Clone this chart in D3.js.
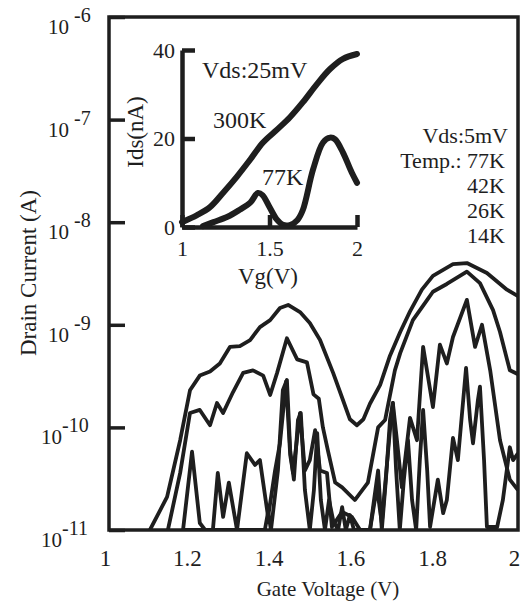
<!DOCTYPE html>
<html>
<head>
<meta charset="utf-8">
<script src="https://cdn.jsdelivr.net/npm/d3@7"></script>
<style>
  body { margin: 0; background: #fff; }
  svg { display: block; }
  text { font-family: "Liberation Serif", "Times New Roman", serif; fill: #1e1e1e; }
</style>
</head>
<body>
<svg></svg>
<script>
// main plot, Vds = 5mV : gate voltage (V) and drain current (A) per temperature
let vg77 = [1.100, 1.142, 1.174, 1.198, 1.222, 1.247, 1.271, 1.296, 1.320, 1.345, 1.369, 1.394, 1.418, 1.438, 1.467, 1.491, 1.516, 1.548, 1.572, 1.589, 1.606, 1.622, 1.638, 1.663, 1.687, 1.712, 1.736, 1.765, 1.792, 1.841, 1.875, 1.924, 1.973, 2.000];
let id77 = [1e-11, 2.1e-11, 7.5e-11, 2.3e-10, 3.2e-10, 3.5e-10, 4.2e-10, 6.1e-10, 6.2e-10, 7.1e-10, 9.5e-10, 1.11e-9, 1.46e-9, 1.56e-9, 1.33e-9, 1.04e-9, 7.1e-10, 3.4e-10, 1.85e-10, 1.2e-10, 1.05e-10, 1.2e-10, 1.7e-10, 2.6e-10, 5.0e-10, 8.5e-10, 1.35e-9, 2.2e-9, 3.0e-9, 3.9e-9, 4.0e-9, 3.2e-9, 2.2e-9, 1.9e-9];

let vg42 = [1.144, 1.174, 1.198, 1.222, 1.247, 1.264, 1.279, 1.303, 1.328, 1.352, 1.377, 1.394, 1.411, 1.435, 1.460, 1.484, 1.500, 1.513, 1.523, 1.535, 1.553, 1.570, 1.601, 1.633, 1.658, 1.675, 1.699, 1.712, 1.743, 1.778, 1.792, 1.826, 1.875, 1.907, 1.939, 1.956, 1.980, 2.000];
let id42 = [1e-11, 3.6e-11, 1.38e-10, 1.48e-10, 1.05e-10, 1.73e-10, 1.38e-10, 2.2e-10, 3.4e-10, 3.6e-10, 3.2e-10, 2.07e-10, 3.4e-10, 7.4e-10, 4.6e-10, 4.3e-10, 2.1e-10, 1.9e-10, 1.0e-10, 6.0e-11, 2.9e-11, 2.6e-11, 1.96e-11, 2.9e-11, 1.0e-10, 1.18e-10, 3.6e-10, 5.3e-10, 1.11e-9, 1.75e-9, 2.1e-9, 2.5e-9, 3.3e-9, 2.55e-9, 1.39e-9, 8.5e-10, 3.6e-10, 3.3e-10];

let vg26 = [1.181, 1.203, 1.222, 1.235, 1.254, 1.266, 1.279, 1.293, 1.313, 1.337, 1.357, 1.369, 1.389, 1.406, 1.418, 1.433, 1.443, 1.450, 1.467, 1.479, 1.491, 1.504, 1.516, 1.533, 1.545, 1.570, 1.594, 1.614, 1.638, 1.655, 1.667, 1.687, 1.694, 1.704, 1.716, 1.736, 1.753, 1.768, 1.792, 1.809, 1.826, 1.841, 1.875, 1.895, 1.912, 1.932, 1.956, 1.980, 2.000];
let id26 = [1e-11, 5.8e-11, 1.17e-11, 1e-11, 1e-11, 3.6e-11, 1.34e-11, 2.9e-11, 1e-11, 5.6e-11, 4.3e-11, 4.8e-11, 1.34e-11, 3.8e-11, 7.0e-11, 2.8e-10, 5.4e-11, 3.6e-11, 1.38e-10, 3.8e-11, 4.8e-11, 9.4e-11, 3.8e-11, 3.6e-11, 1.07e-11, 1.5e-11, 1.34e-11, 1e-11, 1e-11, 2.6e-11, 1.17e-11, 9.4e-11, 1.73e-10, 7.5e-11, 2.6e-11, 1.24e-10, 7.5e-11, 6.1e-10, 1.58e-10, 6.4e-10, 4.2e-10, 7.6e-10, 1.75e-9, 6.1e-10, 1.0e-9, 3.6e-10, 7.5e-11, 3.1e-11, 2.45e-11];

let vg14 = [1.181, 1.381, 1.389, 1.396, 1.413, 1.425, 1.435, 1.443, 1.452, 1.462, 1.469, 1.479, 1.491, 1.501, 1.509, 1.518, 1.528, 1.538, 1.548, 1.560, 1.570, 1.579, 1.589, 1.599, 1.638, 1.648, 1.658, 1.667, 1.677, 1.687, 1.694, 1.702, 1.711, 1.721, 1.731, 1.741, 1.751, 1.760, 1.768, 1.778, 1.785, 1.804, 1.817, 1.826, 1.841, 1.853, 1.873, 1.883, 1.890, 1.902, 1.907, 1.917, 1.924, 1.949, 1.963, 1.980, 1.988, 2.000];
let id14 = [1e-11, 1e-11, 1.5e-11, 1e-11, 3.8e-11, 2.3e-10, 2.9e-10, 6.0e-11, 3.1e-11, 1.18e-10, 1.38e-10, 2.45e-11, 1e-11, 2.45e-11, 8.8e-11, 1.96e-11, 1e-11, 1.96e-11, 1.25e-11, 1e-11, 1.67e-11, 1e-11, 1.4e-11, 1e-11, 1e-11, 1.96e-11, 3.8e-11, 1e-11, 3.1e-11, 1.18e-10, 1.73e-10, 3.8e-11, 1e-11, 3.1e-11, 7.5e-11, 1.96e-11, 1e-11, 4.8e-11, 1.48e-10, 3.8e-11, 1.07e-11, 3.1e-11, 1.46e-11, 1.96e-11, 7.9e-11, 4.8e-11, 3.8e-10, 1.18e-10, 7.0e-11, 1.85e-10, 2.5e-10, 4.8e-11, 1.07e-11, 1.07e-11, 1.96e-11, 6.4e-11, 4.8e-11, 5.6e-11];

// inset, Vds = 25mV : Vg (V) and Ids (nA)
let insetVg300 = [1.0, 1.086, 1.16, 1.234, 1.314, 1.389, 1.463, 1.543, 1.617, 1.691, 1.771, 1.846, 1.92, 2.0];
let insetIds300 = [1.1, 2.7, 4.5, 7.7, 11.4, 15.2, 19.1, 22.0, 24.8, 28.2, 32.3, 35.7, 38.0, 39.1];
let insetVg77 = [1.12, 1.18, 1.26, 1.33, 1.39, 1.434, 1.46, 1.50, 1.54, 1.577, 1.62, 1.66, 1.691, 1.749, 1.806, 1.846, 1.875, 1.92, 1.97, 2.0];
let insetIds77 = [0.2, 1.1, 2.3, 3.9, 5.5, 7.7, 7.2, 4.5, 1.8, 0.5, 0.5, 1.6, 3.9, 13.0, 19.1, 20.2, 19.8, 16.8, 12.3, 10.0];

// ticks and labels
let yDecades = [1e-6, 1e-7, 1e-8, 1e-9, 1e-10, 1e-11];
let xTicks = [1, 1.2, 1.4, 1.6, 1.8, 2];
let insetXTicks = [1, 1.5, 2];
let insetYTicks = [0, 20, 40];
let legendLines = ["Vds:5mV", "Temp.: 77K", "42K", "26K", "14K"];

let width = 520;
let height = 601;
let ink = "#1e1e1e";

let svg = d3.select("svg");
let xScale, yScale, insetX, insetY;

let drawCanvas = () => {
  svg.attr("width", width).attr("height", height);
  svg.append("defs").append("clipPath").attr("id", "plotClip")
    .append("rect").attr("x", 109).attr("y", 17).attr("width", 409).attr("height", 513);
};

let generateScales = () => {
  xScale = d3.scaleLinear().domain([1, 2]).range([109, 518]);
  yScale = d3.scaleLog().domain([1e-11, 1e-6]).range([530, 17]);
  insetX = d3.scaleLinear().domain([1, 2]).range([182, 357]);
  insetY = d3.scaleLinear().domain([0, 40]).range([227, 50]);
};

let drawLines = () => {
  let line = d3.line()
    .x((d) => xScale(d[0]))
    .y((d) => yScale(d[1]));
  let series = [[vg77, id77], [vg42, id42], [vg26, id26], [vg14, id14]];
  let g = svg.append("g").attr("clip-path", "url(#plotClip)");
  series.forEach((s) => {
    g.append("path")
      .datum(s[0].map((v, i) => [v, s[1][i]]))
      .attr("d", line)
      .attr("fill", "none")
      .attr("stroke", ink)
      .attr("stroke-width", 3.8)
      .attr("stroke-linejoin", "round");
  });

  // inset curves are thicker and smooth
  let insetLine = d3.line()
    .x((d) => insetX(d[0]))
    .y((d) => insetY(d[1]))
    .curve(d3.curveCatmullRom);
  [[insetVg300, insetIds300], [insetVg77, insetIds77]].forEach((s) => {
    svg.append("path")
      .datum(s[0].map((v, i) => [v, s[1][i]]))
      .attr("d", insetLine)
      .attr("fill", "none")
      .attr("stroke", ink)
      .attr("stroke-width", 6)
      .attr("stroke-linecap", "round")
      .attr("stroke-linejoin", "round");
  });
};

let generateAxes = () => {
  // frame
  svg.append("rect")
    .attr("x", 109).attr("y", 17).attr("width", 409).attr("height", 513)
    .attr("fill", "none").attr("stroke", ink).attr("stroke-width", 3.5);

  let yAxis = svg.append("g")
    .attr("transform", "translate(109,0)")
    .call(d3.axisLeft(yScale).tickValues(yDecades).tickSize(-16).tickFormat(""));
  yAxis.select(".domain").remove();
  yAxis.selectAll("line").attr("stroke", ink).attr("stroke-width", 3.5);

  // 10^n labels drawn by hand for the superscript
  yDecades.forEach((d) => {
    let e = Math.round(Math.log10(d));
    let t = svg.append("text")
      .attr("x", e <= -10 ? 41 : 48)
      .attr("y", yScale(d) + 17)
      .style("font-size", "21px");
    t.append("tspan").text("10");
    t.append("tspan")
      .attr("dx", e <= -10 ? 0 : 5)
      .attr("dy", -12)
      .style("font-size", "20px")
      .text(String(e));
  });

  let xAxis = svg.append("g")
    .attr("transform", "translate(0,530)")
    .call(d3.axisBottom(xScale).tickValues(xTicks).tickSize(0).tickPadding(20).tickFormat(d3.format("~g")));
  xAxis.select(".domain").remove();
  xAxis.selectAll("text")
    .attr("dx", -4)
    .attr("fill", ink)
    .style("font-size", "23px")
    .style("font-family", "Liberation Serif, serif");

  svg.append("text")
    .attr("x", 328).attr("y", 596)
    .attr("text-anchor", "middle")
    .style("font-size", "21px")
    .text("Gate Voltage (V)");

  svg.append("text")
    .attr("transform", "translate(36,273) rotate(-90)")
    .attr("text-anchor", "middle")
    .style("font-size", "23px")
    .text("Drain Current (A)");

  // inset axes
  let iy = svg.append("g")
    .attr("transform", "translate(182,0)")
    .call(d3.axisLeft(insetY).tickValues(insetYTicks).tickSize(-13).tickSizeOuter(0).tickPadding(7));
  let ix = svg.append("g")
    .attr("transform", "translate(0,227)")
    .call(d3.axisBottom(insetX).tickValues(insetXTicks).tickSize(-12).tickSizeOuter(0).tickPadding(14).tickFormat(d3.format("~g")));
  [iy, ix].forEach((a) => {
    a.selectAll("line, .domain").attr("stroke", ink).attr("stroke-width", 4.5);
    a.selectAll("text")
      .attr("fill", ink)
      .style("font-size", "22px")
      .style("font-family", "Liberation Serif, serif");
  });
  ix.selectAll("text").attr("y", 13);

  svg.append("text")
    .attr("x", 268).attr("y", 284)
    .attr("text-anchor", "middle")
    .style("font-size", "23px")
    .text("Vg(V)");
  svg.append("text")
    .attr("transform", "translate(143,132) rotate(-90)")
    .attr("text-anchor", "middle")
    .style("font-size", "23px")
    .text("Ids(nA)");
};

let drawLabels = () => {
  svg.append("text").attr("x", 202).attr("y", 78).style("font-size", "24px").text("Vds:25mV");
  svg.append("text").attr("x", 213).attr("y", 128).style("font-size", "24px").text("300K");
  svg.append("text").attr("x", 262).attr("y", 185).style("font-size", "24px").text("77K");

  let legendY = [143, 168, 193, 218, 243];
  legendLines.forEach((s, i) => {
    svg.append("text")
      .attr("x", i === 0 ? 508 : 505)
      .attr("y", legendY[i])
      .attr("text-anchor", "end")
      .style("font-size", "22px")
      .text(s);
  });
};

drawCanvas();
generateScales();
drawLines();
generateAxes();
drawLabels();
</script>
</body>
</html>
